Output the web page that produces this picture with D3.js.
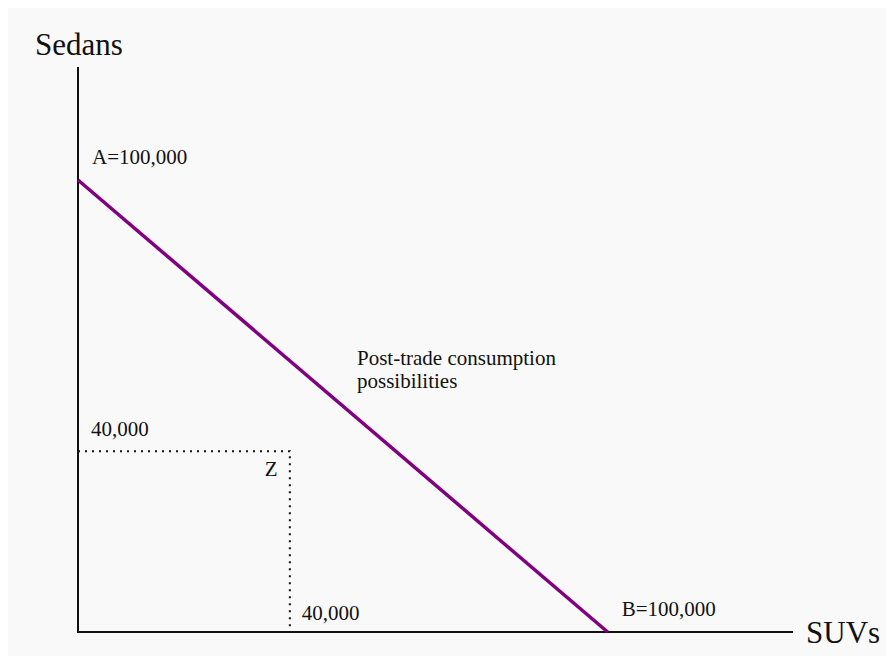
<!DOCTYPE html>
<html><head><meta charset="utf-8">
<script src="https://cdn.jsdelivr.net/npm/d3@7"></script>
<style>body{margin:0;background:#fff}svg{display:block}text{font-family:"Liberation Serif","Times New Roman",serif;fill:#111}</style>
</head><body>
<script>
const axisLabels = ["SUVs", "Sedans"];
const ppfPoints = [[0, 100000], [100000, 0]];
const pointZ = [40000, 40000];
const endLabels = ["A=100,000", "B=100,000"];
const zTickLabels = ["40,000", "40,000"];
const curveLabel = ["Post-trade consumption", "possibilities"];

const W = 894, H = 664;
const svg = d3.select("body").append("svg").attr("width", W).attr("height", H);
svg.append("rect").attr("x", 8).attr("y", 8).attr("width", W - 16).attr("height", H - 16).attr("fill", "#f9f9f9");

const x = d3.scaleLinear().domain([0, 135000]).range([78, 793]);
const y = d3.scaleLinear().domain([0, 125000]).range([632, 67]);

// dotted guides
svg.append("path")
  .attr("d", d3.line()([[x(0), y(pointZ[1])], [x(pointZ[0]), y(pointZ[1])], [x(pointZ[0]), y(0)]]))
  .attr("fill", "none").attr("stroke", "#111").attr("stroke-width", 2).attr("stroke-dasharray", "2,5");

// axes
svg.append("line").attr("x1", x(0)).attr("x2", x(0)).attr("y1", y(125000)).attr("y2", y(0))
  .attr("stroke", "#111").attr("stroke-width", 2);
svg.append("line").attr("x1", x(0) - 1).attr("x2", x(135000)).attr("y1", y(0)).attr("y2", y(0))
  .attr("stroke", "#111").attr("stroke-width", 2);

// line
svg.append("path").attr("d", d3.line().x(d => x(d[0])).y(d => y(d[1]))(ppfPoints))
  .attr("fill", "none").attr("stroke", "#800080").attr("stroke-width", 3.5);

// texts
const fs = 21;
svg.append("text").attr("x", 35).attr("y", 55).attr("font-size", 31).text(axisLabels[1]);
svg.append("text").attr("x", 806).attr("y", 643).attr("font-size", 31).text(axisLabels[0]);
svg.append("text").attr("x", x(0) + 14).attr("y", y(ppfPoints[0][1]) - 16).attr("font-size", fs).text(endLabels[0]);
svg.append("text").attr("x", x(ppfPoints[1][0]) + 14).attr("y", y(0) - 16).attr("font-size", fs).text(endLabels[1]);
svg.append("text").attr("x", x(0) + 13).attr("y", y(pointZ[1]) - 15).attr("font-size", fs).text(zTickLabels[1]);
svg.append("text").attr("x", x(pointZ[0]) + 12).attr("y", y(0) - 12).attr("font-size", fs).text(zTickLabels[0]);
svg.append("text").attr("x", x(pointZ[0]) - 25).attr("y", y(pointZ[1]) + 25).attr("font-size", fs).text("Z");
svg.selectAll("text.cl").data(curveLabel).join("text").attr("class", "cl")
  .attr("x", 357).attr("y", (d, i) => 365 + i * 23).attr("font-size", fs).text(d => d);
</script>
</body></html>
